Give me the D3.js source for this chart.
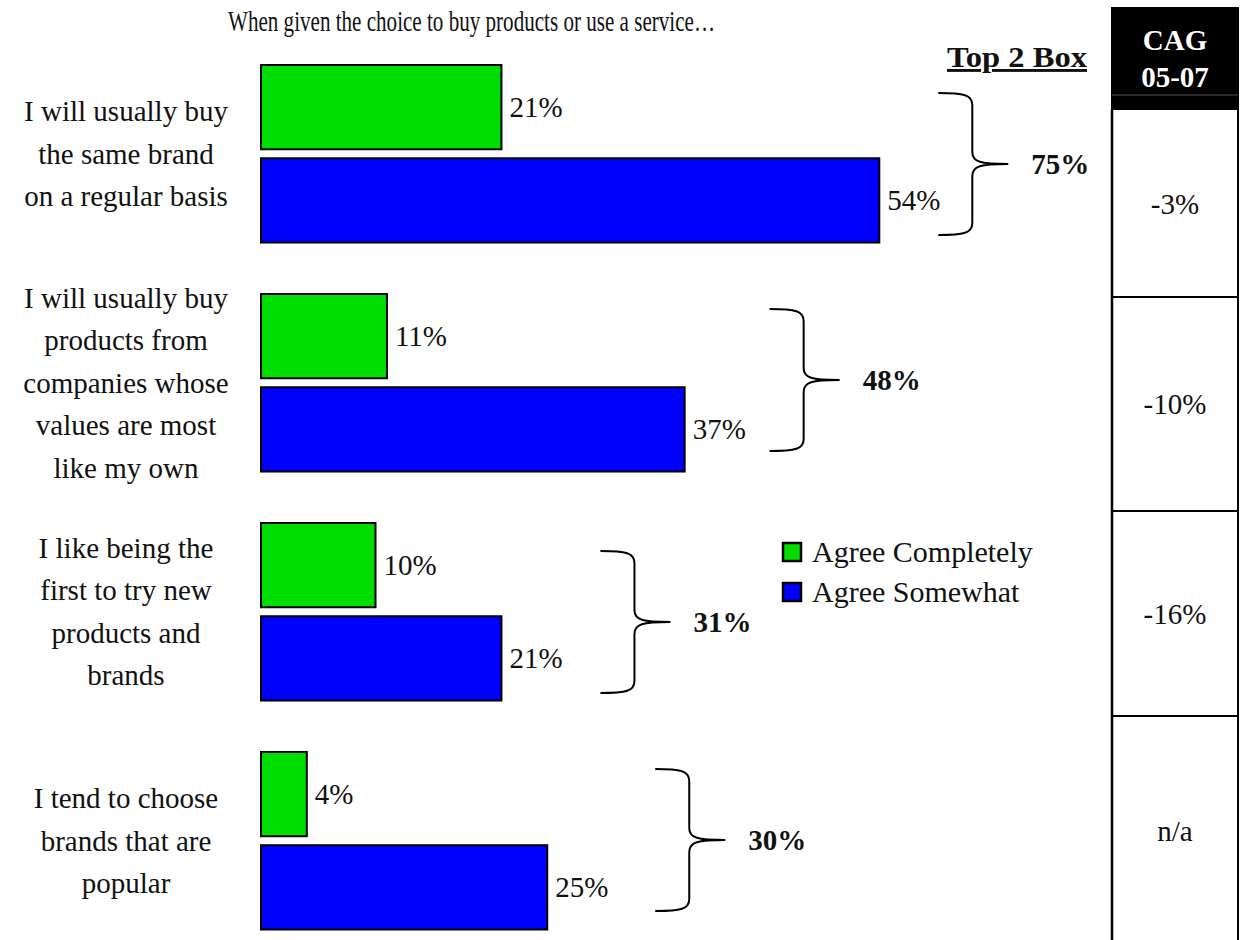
<!DOCTYPE html>
<html>
<head>
<meta charset="utf-8">
<script src="https://cdn.jsdelivr.net/npm/d3@7"></script>
<style>
  html, body { margin: 0; padding: 0; background: #fff; }
  svg { display: block; }
  text { font-family: "Liberation Serif", "DejaVu Serif", serif; fill: #111; }
</style>
</head>
<body>
<svg id="chart" width="1243" height="940"></svg>
<script>
// ---- data ----
const title = "When given the choice to buy products or use a service…";
const categories = [
  ["I will usually buy", "the same brand", "on a regular basis"],
  ["I will usually buy", "products from", "companies whose", "values are most", "like my own"],
  ["I like being the", "first to try new", "products and", "brands"],
  ["I tend to choose", "brands that are", "popular"]
];
const seriesNames = ["Agree Completely", "Agree Somewhat"];
const agreeCompletely = [21, 11, 10, 4];
const agreeSomewhat = [54, 37, 21, 25];
const top2Box = [75, 48, 31, 30];
const top2Title = "Top 2 Box";
const cagHeader = ["CAG", "05-07"];
const cagValues = ["-3%", "-10%", "-16%", "n/a"];

// ---- layout ----
const colors = { "Agree Completely": "#00dd00", "Agree Somewhat": "#0000ff" };
const braceGap = [59, 85, 99, 108];           // space between longest bar and its brace
const braceInset = [28, 15, 28, 17];          // brace top below the group's top edge
const braceSpan = 142;
const tableEdges = [110, 297, 511, 716, 945]; // row boundaries of the CAG column
const fontSize = 29;

const svg = d3.select("#chart");
const groupIdx = d3.range(categories.length);

const x = d3.scaleLinear().domain([0, 100]).range([261, 261 + 1145]);
const y = d3.scaleBand().domain(groupIdx).range([65, 929.5]).paddingInner(0.2247).paddingOuter(0);
const ySeries = d3.scaleBand().domain(seriesNames).range([0, y.bandwidth()]).paddingInner(0.0965);

const rows = groupIdx.map(i => ({
  i,
  lines: categories[i],
  values: [
    { name: seriesNames[0], v: agreeCompletely[i] },
    { name: seriesNames[1], v: agreeSomewhat[i] }
  ],
  top2: top2Box[i],
  cag: cagValues[i]
}));

// title
svg.append("text")
  .attr("x", 228).attr("y", 31)
  .attr("font-size", 29)
  .attr("textLength", 487).attr("lengthAdjust", "spacingAndGlyphs")
  .text(title);

// category labels
const lineH = 42.5;
svg.selectAll("text.cat")
  .data(rows).join("text")
  .attr("class", "cat")
  .attr("text-anchor", "middle")
  .attr("font-size", fontSize)
  .each(function(d) {
    const cy = y(d.i) + y.bandwidth() / 2;
    const n = d.lines.length;
    d3.select(this).selectAll("tspan").data(d.lines).join("tspan")
      .attr("x", 126)
      .attr("y", (t, k) => cy + (k - (n - 1) / 2) * lineH + 10)
      .text(t => t);
  });

// bars
const g = svg.selectAll("g.grp").data(rows).join("g")
  .attr("class", "grp")
  .attr("transform", d => `translate(0,${y(d.i)})`);

g.selectAll("rect").data(d => d.values).join("rect")
  .attr("x", x(0))
  .attr("y", d => ySeries(d.name))
  .attr("width", d => x(d.v) - x(0))
  .attr("height", ySeries.bandwidth())
  .attr("fill", d => colors[d.name])
  .attr("stroke", "#000")
  .attr("stroke-width", 2);

g.selectAll("text.val").data(d => d.values).join("text")
  .attr("class", "val")
  .attr("x", d => x(d.v) + 8)
  .attr("y", d => ySeries(d.name) + ySeries.bandwidth() / 2 + 10)
  .attr("font-size", fontSize)
  .text(d => d.v + "%");

// braces with Top 2 Box totals
function bracePath(x0, top, bottom) {
  const x1 = x0 + 34, tip = x0 + 70, r = 12, mid = (top + bottom) / 2;
  const p = d3.path();
  p.moveTo(x0, top);
  p.bezierCurveTo(x0 + 26, top, x1, top + 2, x1, top + r);
  p.lineTo(x1, mid - r);
  p.bezierCurveTo(x1, mid - 2, x1 + 8, mid, tip, mid);
  p.bezierCurveTo(x1 + 8, mid, x1, mid + 2, x1, mid + r);
  p.lineTo(x1, bottom - r);
  p.bezierCurveTo(x1, bottom - 2, x0 + 26, bottom, x0, bottom);
  return p.toString();
}

rows.forEach(d => {
  const x0 = x(d3.max(d.values, v => v.v)) + braceGap[d.i];
  const top = y(d.i) + braceInset[d.i];
  const bottom = top + braceSpan;
  svg.append("path")
    .attr("d", bracePath(x0, top, bottom))
    .attr("fill", "none")
    .attr("stroke", "#000")
    .attr("stroke-width", 2);
  svg.append("text")
    .attr("x", x0 + 93)
    .attr("y", (top + bottom) / 2 + 10)
    .attr("font-size", fontSize)
    .attr("font-weight", "bold")
    .text(d.top2 + "%");
});

svg.append("text")
  .attr("x", 947).attr("y", 67)
  .attr("font-size", fontSize)
  .attr("font-weight", "bold")
  .attr("text-decoration", "underline")
  .attr("textLength", 140).attr("lengthAdjust", "spacingAndGlyphs")
  .text(top2Title);

// legend
const legend = svg.append("g").attr("transform", "translate(783,543)");
legend.selectAll("rect").data(seriesNames).join("rect")
  .attr("x", 0).attr("y", (d, k) => k * 40)
  .attr("width", 18).attr("height", 18)
  .attr("fill", d => colors[d])
  .attr("stroke", "#000").attr("stroke-width", 2.5);
legend.selectAll("text").data(seriesNames).join("text")
  .attr("x", 29).attr("y", (d, k) => k * 40 + 19)
  .attr("font-size", 30)
  .text(d => d);

// CAG column
const tx0 = 1112, tx1 = 1238, tcx = (tx0 + tx1) / 2;
svg.append("rect")
  .attr("x", tx0 - 1).attr("y", 7)
  .attr("width", tx1 - tx0 + 2).attr("height", tableEdges[0] - 7)
  .attr("fill", "#000");
svg.append("line")
  .attr("x1", tx0).attr("x2", tx1).attr("y1", 95).attr("y2", 95)
  .attr("stroke", "#555").attr("stroke-width", 1);
svg.selectAll("text.hdr").data(cagHeader).join("text")
  .attr("class", "hdr")
  .attr("x", tcx).attr("y", (d, k) => 50 + k * 37)
  .attr("text-anchor", "middle")
  .attr("font-size", fontSize)
  .attr("font-weight", "bold")
  .style("fill", "#fff")
  .text(d => d);

svg.append("line")
  .attr("x1", tx0).attr("x2", tx0).attr("y1", tableEdges[0]).attr("y2", 940)
  .attr("stroke", "#000").attr("stroke-width", 2.5);
svg.append("line")
  .attr("x1", tx1).attr("x2", tx1).attr("y1", tableEdges[0] - 4).attr("y2", 940)
  .attr("stroke", "#000").attr("stroke-width", 2);
svg.selectAll("line.rowline").data(tableEdges.slice(1, -1)).join("line")
  .attr("class", "rowline")
  .attr("x1", tx0).attr("x2", tx1).attr("y1", d => d).attr("y2", d => d)
  .attr("stroke", "#000").attr("stroke-width", 2.2);
svg.selectAll("text.cag").data(rows).join("text")
  .attr("class", "cag")
  .attr("x", tcx)
  .attr("y", d => (tableEdges[d.i] + tableEdges[d.i + 1]) / 2 + 10)
  .attr("text-anchor", "middle")
  .attr("font-size", fontSize)
  .text(d => d.cag);
</script>
</body>
</html>
